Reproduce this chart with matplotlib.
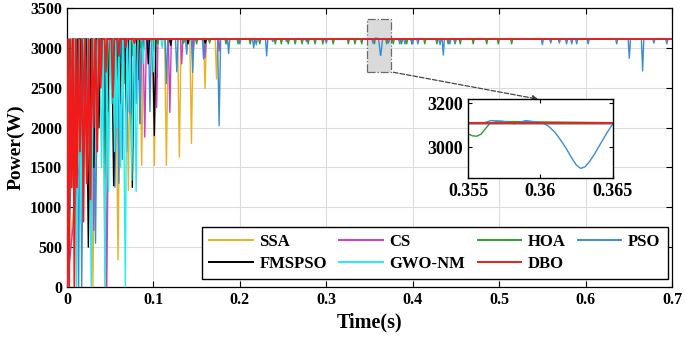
import numpy as np
import matplotlib
matplotlib.use('Agg')
import matplotlib.pyplot as plt
from matplotlib.patches import Rectangle

plt.rcParams['font.family'] = ['Liberation Serif', 'DejaVu Serif']
plt.rcParams['font.weight'] = 'bold'

# Potencia en el MPP (W)
P_MPP = 3110

# Caidas de potencia: tiempo (s) y valor minimo (W)
ssa_t = [0.026, 0.030, 0.044, 0.059, 0.071, 0.0864, 0.101, 0.115, 0.130, 0.144, 0.1597, 0.173]
ssa_p = [1500, 0, 0, 340, 1210, 1525, 1525, 1525, 1630, 1800, 2490, 2610]

cs_t = [0.031, 0.038, 0.046, 0.060, 0.073, 0.0845, 0.090, 0.1037, 0.119, 0.1327, 0.146, 0.1597, 0.176]
cs_p = [710, 2300, 0, 1700, 2170, 2050, 1880, 2250, 2190, 2800, 2950, 2880, 2960]

hoa_t = [0.006, 0.012, 0.0275, 0.035, 0.042, 0.048, 0.055, 0.067, 0.076, 0.085, 0.095, 0.105,
         0.120, 0.135, 0.150, 0.165, 0.184, 0.198, 0.212, 0.223, 0.241, 0.248, 0.256, 0.264,
         0.272, 0.279, 0.287, 0.296, 0.308, 0.3255, 0.3332, 0.341, 0.370, 0.3775,
         0.387, 0.393, 0.399, 0.414, 0.428, 0.441, 0.449, 0.455, 0.470, 0.4856, 0.499, 0.5145]
hoa_p = [2200, 1600, 700, 1840, 2400, 2700, 2900, 2550, 2900, 3000, 3050, 3050,
         3050, 3060, 3050, 3060, 3050, 3050, 3050, 3050, 3050, 3050, 3050, 3050,
         3050, 3050, 3050, 3050, 3050, 3050, 3050, 3050, 3050, 3050,
         3050, 3050, 3050, 3050, 3050, 3050, 3050, 3050, 3050, 3050, 3050, 3050]
# detalle de la caida HOA cerca de 0.3556 s (recuadro)
hoa_zoom_t = [0.3540, 0.3550, 0.3553, 0.3556, 0.3559, 0.3562, 0.3565, 0.3570]
hoa_zoom_p = [3110, 3062, 3053, 3051, 3060, 3085, 3108, 3118]

pso_t = [0.0135, 0.017, 0.026, 0.033, 0.044, 0.048, 0.0555, 0.060, 0.064, 0.069, 0.075,
         0.080, 0.0845, 0.096, 0.115,
         0.127, 0.1385, 0.1454, 0.158, 0.176, 0.187, 0.200, 0.216, 0.219, 0.231, 0.238,
         0.254, 0.277, 0.300, 0.354, 0.372, 0.385, 0.391, 0.400, 0.406, 0.4316, 0.4354,
         0.443, 0.449, 0.550, 0.5597, 0.5697, 0.578, 0.584, 0.5897, 0.603, 0.636, 0.6506,
         0.666, 0.679, 0.694]
pso_p = [0, 0, 1500, 550, 1130, 1800, 1250, 1300, 1600, 1700, 1380,
         2300, 2050, 2200, 2550,
         2700, 2920, 2690, 2860, 2025, 2930, 3050, 3000, 3040, 2900, 3080,
         3080, 3080, 3060, 3060, 3060, 3050, 3050, 3050, 3050, 3040, 2910,
         3050, 3060, 3040, 3060, 3060, 3050, 3050, 3050, 3050, 3050, 2870,
         2710, 3060, 3050]
# detalle de la caida PSO cerca de 0.3628 s (recuadro)
pso_zoom_t = [0.3560, 0.3566, 0.3574, 0.3582, 0.3590, 0.3597, 0.3602, 0.3606, 0.3610,
              0.3614, 0.3618, 0.3622, 0.3625, 0.3628, 0.3631, 0.3634, 0.3638, 0.3642,
              0.3646, 0.3650]
pso_zoom_p = [3110, 3122, 3119, 3108, 3122, 3116, 3110, 3095, 3070,
              3035, 2995, 2950, 2920, 2905, 2912, 2935, 2975, 3020,
              3065, 3105]

fmspso_t = [0.005, 0.010, 0.017, 0.0247, 0.031, 0.037, 0.044, 0.048, 0.054, 0.058, 0.062,
            0.069, 0.0756, 0.082, 0.088, 0.094, 0.101, 0.120, 0.140, 0.160]
fmspso_p = [2500, 1300, 1800, 500, 1500, 2000, 1380, 2200, 1270, 2600, 2300,
            2200, 1250, 2600, 2900, 2800, 1900, 3030, 3050, 3060]

gwo_t = [0.006, 0.0112, 0.016, 0.022, 0.028, 0.034, 0.040, 0.044, 0.048, 0.052, 0.055,
         0.058, 0.062, 0.0675, 0.071, 0.075, 0.080, 0.088, 0.100, 0.110]
gwo_p = [1800, 0, 800, 1500, 0, 2000, 1500, 0, 1200, 2300, 1700,
         2000, 1500, 0, 2200, 1340, 1200, 2800, 2700, 3000]

dbo_t = [0.0025, 0.0055, 0.0085, 0.0115, 0.015, 0.019, 0.023, 0.027, 0.031, 0.035,
         0.039, 0.045, 0.053, 0.060, 0.068, 0.078]
dbo_p = [0, 1250, 0, 1250, 1700, 820, 1300, 1100, 2000, 1700,
         2500, 2700, 2380, 2900, 3000, 3060]

names = ['SSA', 'CS', 'HOA', 'PSO', 'FMSPSO', 'GWO-NM', 'DBO']
colores = ['#EDB120', '#C83FC8', '#2E9E2E', '#3C8DD0', '#000000', '#22EEEE', '#F01A1A']
anchos = [1.0, 1.0, 1.0, 1.0, 1.0, 1.0, 1.3]


def construir(dt, dp, extra_t=None, extra_p=None):
    # traza: arranca en 0, vuelve al MPP entre caidas
    eventos = [(t, p, None) for t, p in zip(dt, dp)]
    if extra_t is not None:
        eventos.append((extra_t[0], None, (extra_t, extra_p)))
    eventos.sort(key=lambda e: e[0])
    ts = [0.0]
    ps = [0.0]
    tiempos = [e[0] for e in eventos]
    for i, (t, p, det) in enumerate(eventos):
        if det is not None:
            ts += list(det[0])
            ps += list(det[1])
            continue
        w = 0.0012 + 0.0016 * (P_MPP - p) / P_MPP
        prev = tiempos[i - 1] if i > 0 else 0.0
        nxt = tiempos[i + 1] if i + 1 < len(tiempos) else 1.0
        wl = min(w, (t - prev) / 2)
        wr = min(w, (nxt - t) / 2)
        ts += [t - wl, t, t + wr]
        ps += [P_MPP, p, P_MPP]
    ts.append(0.7)
    ps.append(P_MPP)
    return np.array(ts), np.array(ps)


series = [
    construir(ssa_t, ssa_p),
    construir(cs_t, cs_p),
    construir(hoa_t, hoa_p, hoa_zoom_t, hoa_zoom_p),
    construir(pso_t, pso_p, pso_zoom_t, pso_zoom_p),
    construir(fmspso_t, fmspso_p),
    construir(gwo_t, gwo_p),
    construir(dbo_t, dbo_p),
]

fig = plt.figure(figsize=(6.85, 3.41), dpi=100)
ax = fig.add_axes([67 / 685, 1 - 287 / 341, 605 / 685, 279 / 341])

lineas = []
for (ts, ps), n, c, lw in zip(series, names, colores, anchos):
    l, = ax.plot(ts, ps, color=c, lw=lw, label=n, zorder=3)
    lineas.append(l)

ax.set_xlim(0, 0.7)
ax.set_ylim(0, 3500)
ax.set_xticks(np.arange(0, 0.71, 0.1))
ax.set_xticklabels(['0', '0.1', '0.2', '0.3', '0.4', '0.5', '0.6', '0.7'])
ax.set_yticks(np.arange(0, 3501, 500))
ax.grid(True, color='#DCDCDC', lw=0.8, zorder=0)
ax.set_axisbelow(True)
ax.tick_params(direction='in', top=True, right=True, labelsize=11.5, length=4)
for s in ax.spines.values():
    s.set_linewidth(0.9)
ax.set_xlabel('Time(s)', fontsize=14.5, fontweight='bold', labelpad=3)
ax.set_ylabel('Power(W)', fontsize=14, fontweight='bold', labelpad=4)

# recuadro de la zona ampliada
ax.add_patch(Rectangle((0.3468, 2700), 0.0277, 660, facecolor='#D4D4D4', edgecolor='#555555',
                       lw=0.9, ls='-.', alpha=0.85, zorder=2))
ax.annotate('', xy=(0.5484, 2350), xytext=(0.3745, 2700),
            arrowprops=dict(arrowstyle='-|>', ls='--', color='#444444', lw=0.9,
                            mutation_scale=8), zorder=5)

# orden por filas: SSA CS HOA PSO / FMSPSO GWO-NM DBO
orden = [0, 4, 1, 5, 2, 6, 3]
leg = ax.legend([lineas[i] for i in orden], [names[i] for i in orden],
                loc='lower right', bbox_to_anchor=(0.999, 0.015), ncol=4, fontsize=12,
                frameon=True, fancybox=False, edgecolor='black', framealpha=1,
                handlelength=2.6, columnspacing=0.75, handletextpad=0.4,
                borderpad=0.45, labelspacing=0.35, borderaxespad=0.2)
leg.get_frame().set_linewidth(1.0)
for l in leg.get_lines():
    l.set_linewidth(1.4)

# recuadro ampliado
axi = fig.add_axes([468 / 685, 1 - 178.3 / 341, 144.5 / 685, 79.3 / 341])
for (ts, ps), c, lw in zip(series, colores, anchos):
    axi.plot(ts, ps, color=c, lw=lw)
axi.set_xlim(0.355, 0.365)
axi.set_ylim(2860, 3220)
axi.set_xticks([0.355, 0.36, 0.365])
axi.set_xticklabels(['0.355', '0.36', '0.365'])
axi.set_yticks([3000, 3200])
axi.tick_params(direction='in', top=True, right=True, labelsize=13, length=3)
for s in axi.spines.values():
    s.set_linewidth(1.0)

fig.savefig('out.png', dpi=100)
